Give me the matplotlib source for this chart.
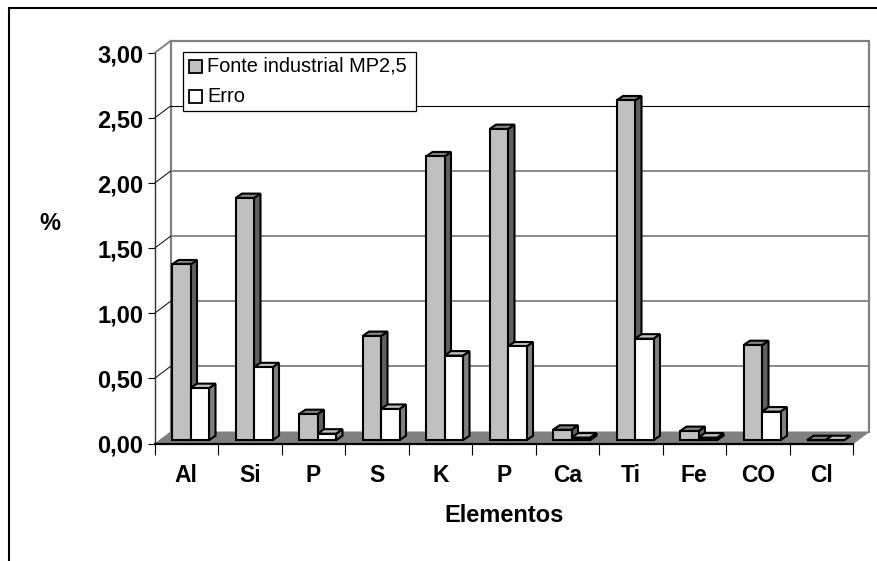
import matplotlib
matplotlib.use("Agg")
import matplotlib.pyplot as plt
from matplotlib.patches import Polygon, Rectangle
from matplotlib.lines import Line2D

plt.rcParams['font.family'] = ['Liberation Sans', 'DejaVu Sans']

elementos = ['Al', 'Si', 'P', 'S', 'K', 'P', 'Ca', 'Ti', 'Fe', 'CO', 'Cl']
fonte = [1.35, 1.86, 0.20, 0.80, 2.18, 2.39, 0.08, 2.61, 0.07, 0.73, 0.0]
erro = [0.40, 0.56, 0.05, 0.24, 0.65, 0.72, 0.02, 0.78, 0.02, 0.22, 0.0]
yticks = [0, 0.5, 1, 1.5, 2, 2.5, 3]
ylabels = ['0,00', '0,50', '1,00', '1,50', '2,00', '2,50', '3,00']

W, H = 877, 561
fig = plt.figure(figsize=(W / 100, H / 100), dpi=100)
# axes box = front face of the 3d plot, pixels measured on the picture
ax = fig.add_axes([154.5 / W, 1 - 443.5 / H, 698.5 / W, 390.5 / H])
ax.set_xlim(0, len(elementos))
ax.set_ylim(0, 3)
ax.patch.set_visible(False)
for s in ax.spines.values():
    s.set_visible(False)

px = len(elementos) / 698.5
py = 3 / 390.5
dx, dy = 16 * px, 12 * py  # depth of the walls
GR = '#808080'


def poly(pts, fc, ec='none', lw=0, z=1):
    ax.add_patch(Polygon(pts, closed=True, fc=fc, ec=ec, lw=lw, zorder=z,
                         clip_on=False, joinstyle='miter'))


n = len(elementos)
# floor
poly([(0, 0), (n, 0), (n + dx, dy), (dx, dy)], GR, z=1)
# walls
ax.plot([dx, dx, n + dx, n + dx], [dy, 3 + dy, 3 + dy, dy], color=GR, lw=1.6,
        clip_on=False, zorder=2, solid_joinstyle='miter')
ax.plot([0, dx], [3, 3 + dy], color=GR, lw=1.4, clip_on=False, zorder=2)
ax.plot([n, n + dx], [0, dy], color=GR, lw=1.0, clip_on=False, zorder=2)
# grid on back wall and side wall
for v in yticks[1:-1]:
    c = 'black' if v == 2.5 else GR
    ax.plot([dx, n + dx], [v + dy, v + dy], color=c,
            lw=0.8 if v == 2.5 else 1.3, clip_on=False, zorder=2)
    ax.plot([0, dx], [v, v + dy], color='black', lw=0.7, clip_on=False, zorder=2)

# front axes
ax.plot([0, 0], [0, 3], color='#303030', lw=1.0, clip_on=False, zorder=3)
ax.plot([0, n], [0, 0], color='black', lw=1.6, clip_on=False, zorder=3)
ax.set_yticks(yticks)
ax.set_yticklabels(ylabels, fontsize=17, fontweight='bold')
ax.set_xticks(range(n + 1))
ax.set_xticklabels([])
ax.tick_params(axis='y', length=5, width=0.8, pad=3, colors='black')
ax.tick_params(axis='x', length=8, width=0.8, colors='black')
for i, nome in enumerate(elementos):
    ax.annotate(nome, (i + 0.5, 0), xytext=(0, -32), textcoords='offset pixels',
                ha='center', va='center', fontsize=16.5, fontweight='bold')

# bars
bw = 18.5 * px
start = 17.5 * px
bdx, bdy = 6.5 * px, 4.5 * py
base = 3.3 * py


def bar3d(x, v, front, top, side, z):
    y0, y1 = base, base + v
    poly([(x + bw, y0), (x + bw + bdx, y0 + bdy), (x + bw + bdx, y1 + bdy), (x + bw, y1)],
         side, 'black', 1.5, z)
    poly([(x, y1), (x + bdx, y1 + bdy), (x + bw + bdx, y1 + bdy), (x + bw, y1)],
         top, 'black', 1.5, z)
    poly([(x, y0), (x + bw, y0), (x + bw, y1), (x, y1)], front, 'black', 1.5, z)


for i in range(n):
    bar3d(i + start, fonte[i], '#C0C0C0', '#808080', '#606060', 5 + 2 * i)
    bar3d(i + start + bw, erro[i], '#FFFFFF', '#C0C0C0', '#808080', 6 + 2 * i)

# legend box
tr = fig.transFigure


def fx(x):
    return x / W


def fy(y):
    return 1 - y / H


fig.text(fx(504), fy(515), 'Elementos', ha='center', va='center', fontsize=17, fontweight='bold')
fig.text(fx(50), fy(224), '%', ha='center', va='center', fontsize=17, fontweight='bold')

fig.add_artist(Rectangle((fx(183), fy(111)), 233 / W, 59 / H, fc='white', ec='black',
                         lw=0.9, transform=tr, zorder=50))
for y, c, lab in [(66.5, '#C0C0C0', 'Fonte industrial MP2,5'), (96.5, '#FFFFFF', 'Erro')]:
    fig.add_artist(Rectangle((fx(189), fy(y + 6.5)), 13 / W, 13 / H, fc=c, ec='black',
                             lw=1.3, transform=tr, zorder=51))
    fig.text(fx(207), fy(y), lab, fontsize=14.4, va='center', ha='left', zorder=52)

# outer frame, only top and left are visible in the picture
fig.add_artist(Line2D([fx(9), fx(9), 1], [0, fy(8), fy(8)], color='black', lw=1.5,
                      transform=tr, solid_joinstyle='miter'))

fig.savefig('out.png', dpi=100)
